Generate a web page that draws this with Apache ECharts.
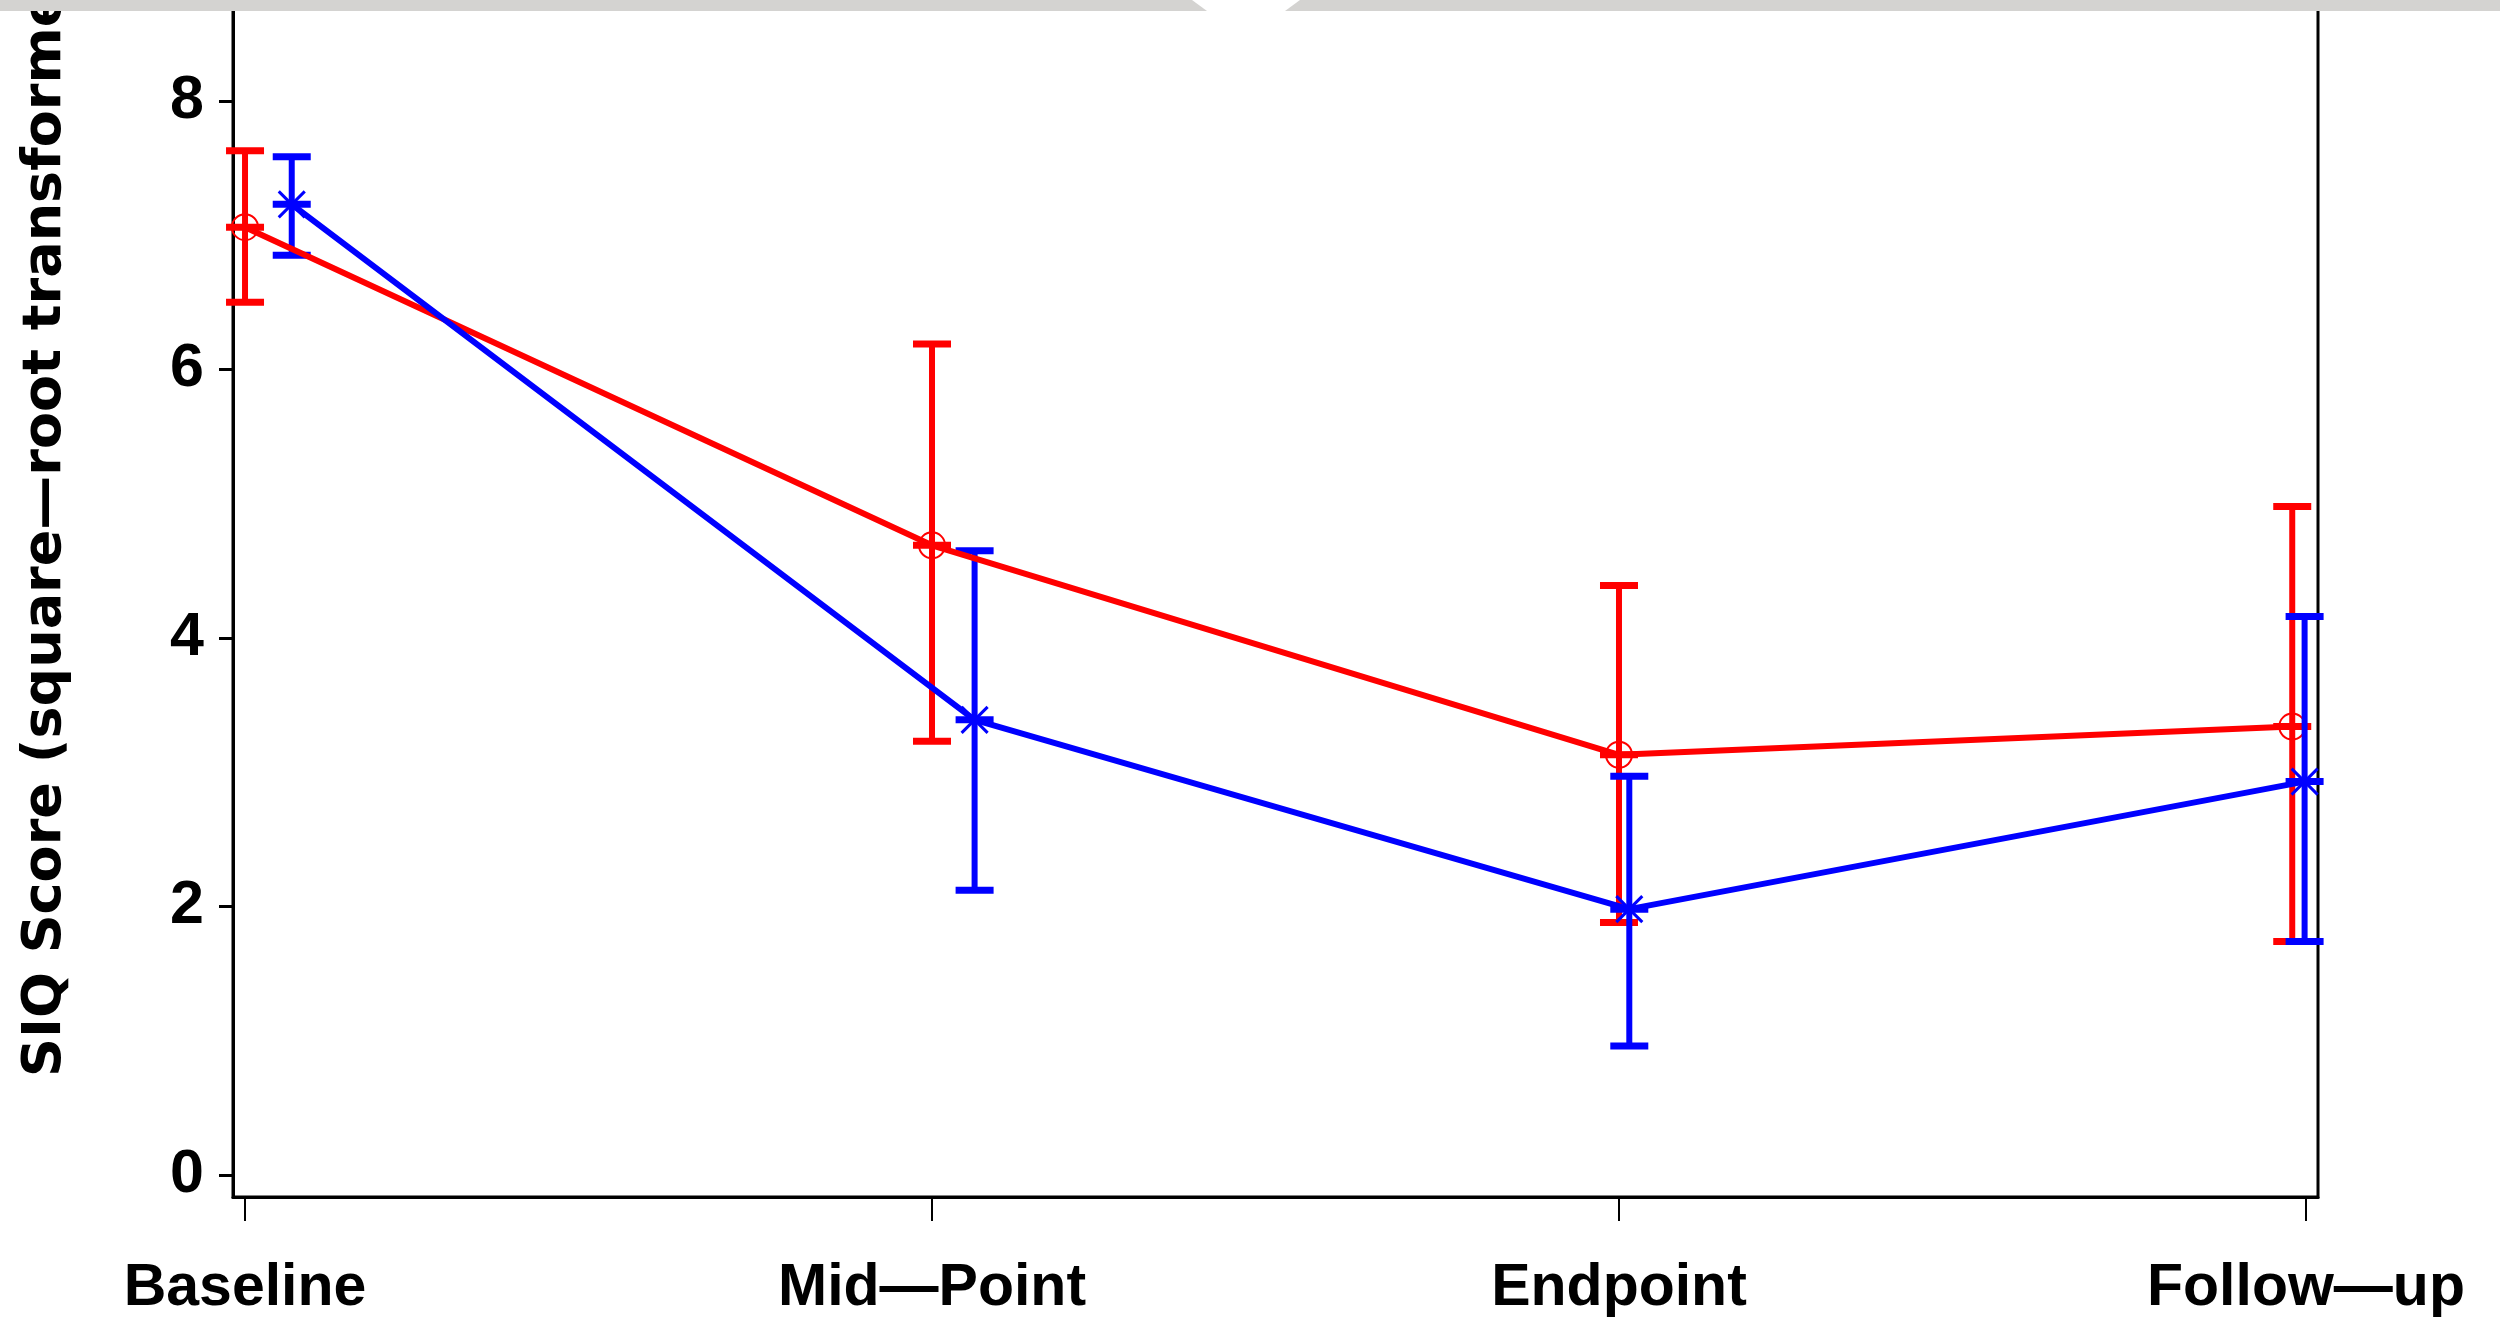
<!DOCTYPE html>
<html><head><meta charset="utf-8">
<script src="https://cdn.jsdelivr.net/npm/echarts@6/dist/echarts.min.js"></script>
<style>html,body{margin:0;padding:0;background:#fff;overflow:hidden}#c{width:2500px;height:1318px}</style>
</head><body><div id="c"></div>
<script>
// ---- data ----
const categories = ['Baseline', 'Mid—Point', 'Endpoint', 'Follow—up'];
const categoryTicks = [0, 1, 2, 3];
const yTicks = [0, 2, 4, 6, 8];
const yAxisTitle = 'SIQ Score (square—root transformed)';

const redX = [0, 1, 2, 2.98];
const redMean = [7.06, 4.69, 3.13, 3.34];
const redLower = [6.50, 3.23, 1.88, 1.74];
const redUpper = [7.63, 6.19, 4.39, 4.98];

const blueX = [0.068, 1.062, 2.015, 2.998];
const blueMean = [7.23, 3.39, 1.98, 2.93];
const blueLower = [6.85, 2.12, 0.96, 1.74];
const blueUpper = [7.585, 4.65, 2.97, 4.16];

// ---- chart ----
const chart = echarts.init(document.getElementById('c'), null, {renderer: 'canvas'});
const FONT = 'Liberation Sans';

function errorBars(name, color, xs, means, lows, ups, marker) {
  return {
    type: 'custom', name: name, z: 3, clip: false,
    data: xs.map((x, i) => [x, means[i], lows[i], ups[i]]),
    encode: {x: 0, y: [1, 2, 3]},
    renderItem: function (params, api) {
      const x = api.value(0);
      const pm = api.coord([x, api.value(1)]);
      const pl = api.coord([x, api.value(2)]);
      const pu = api.coord([x, api.value(3)]);
      const hw = 19;
      const vStyle = {stroke: color, lineWidth: 6};
      const cStyle = {stroke: color, lineWidth: 7};
      const ch = [
        {type: 'line', shape: {x1: pm[0], y1: pu[1], x2: pm[0], y2: pl[1]}, style: vStyle},
        {type: 'line', shape: {x1: pm[0] - hw, y1: pu[1], x2: pm[0] + hw, y2: pu[1]}, style: cStyle},
        {type: 'line', shape: {x1: pm[0] - hw, y1: pl[1], x2: pm[0] + hw, y2: pl[1]}, style: cStyle},
        {type: 'line', shape: {x1: pm[0] - hw, y1: pm[1], x2: pm[0] + hw, y2: pm[1]}, style: cStyle}
      ];
      if (marker === 'circle') {
        ch.push({type: 'circle', shape: {cx: pm[0], cy: pm[1], r: 13}, style: {fill: null, stroke: color, lineWidth: 2}});
      } else {
        const s = 13;
        ch.push({type: 'line', shape: {x1: pm[0] - s, y1: pm[1] - s, x2: pm[0] + s, y2: pm[1] + s}, style: {stroke: color, lineWidth: 3}});
        ch.push({type: 'line', shape: {x1: pm[0] - s, y1: pm[1] + s, x2: pm[0] + s, y2: pm[1] - s}, style: {stroke: color, lineWidth: 3}});
      }
      return {type: 'group', children: ch};
    }
  };
}

function meanLine(name, color, xs, means) {
  return {
    type: 'line', name: name, z: 4, symbol: 'none', animation: false,
    data: xs.map((x, i) => [x, means[i]]),
    lineStyle: {color: color, width: 6}
  };
}

chart.setOption({
  animation: false,
  backgroundColor: '#ffffff',
  grid: {left: 233, right: 182, top: 0, bottom: 121, show: true, borderColor: '#000', borderWidth: 3, backgroundColor: '#fff'},
  xAxis: {
    type: 'value', min: -0.0175, max: 3.0175,
    splitLine: {show: false},
    axisLine: {show: true, onZero: false, lineStyle: {color: '#000', width: 3}},
    axisTick: {show: true, inside: false, length: 24, customValues: categoryTicks, lineStyle: {color: '#000', width: 2}},
    axisLabel: {
      show: true, margin: 62, customValues: categoryTicks,
      formatter: v => categories[Math.round(v)],
      fontFamily: FONT, fontWeight: 'bold', fontSize: 59, color: '#000'
    }
  },
  yAxis: {
    type: 'value', min: -0.164, max: 8.752,
    splitLine: {show: false},
    axisLine: {show: true, onZero: false, lineStyle: {color: '#000', width: 3}},
    axisTick: {show: true, inside: false, length: 14, customValues: yTicks, lineStyle: {color: '#000', width: 3}},
    axisLabel: {
      show: true, margin: 29, customValues: yTicks, padding: [18, 0, 0, 0],
      fontFamily: FONT, fontWeight: 'bold', fontSize: 61, color: '#000'
    }
  },
  series: [
    errorBars('Group 1 CI', '#ff0000', redX, redMean, redLower, redUpper, 'circle'),
    errorBars('Group 2 CI', '#0000ff', blueX, blueMean, blueLower, blueUpper, 'star'),
    meanLine('Group 1', '#ff0000', redX, redMean),
    meanLine('Group 2', '#0000ff', blueX, blueMean)
  ],
  graphic: [
    {type: 'text', x: 46, y: 1077, rotation: Math.PI / 2, z: 10,
      style: {text: yAxisTitle, fill: '#000', font: 'bold 54px "DejaVu Sans"', textAlign: 'left', textVerticalAlign: 'middle'}},
    {type: 'rect', z: 20, shape: {x: 0, y: 0, width: 2500, height: 11}, style: {fill: '#d4d3d1'}},
    {type: 'polygon', z: 21, shape: {points: [[1192, 0], [1300, 0], [1285, 11], [1207, 11]]}, style: {fill: '#ffffff'}}
  ]
});
</script>
</body></html>
